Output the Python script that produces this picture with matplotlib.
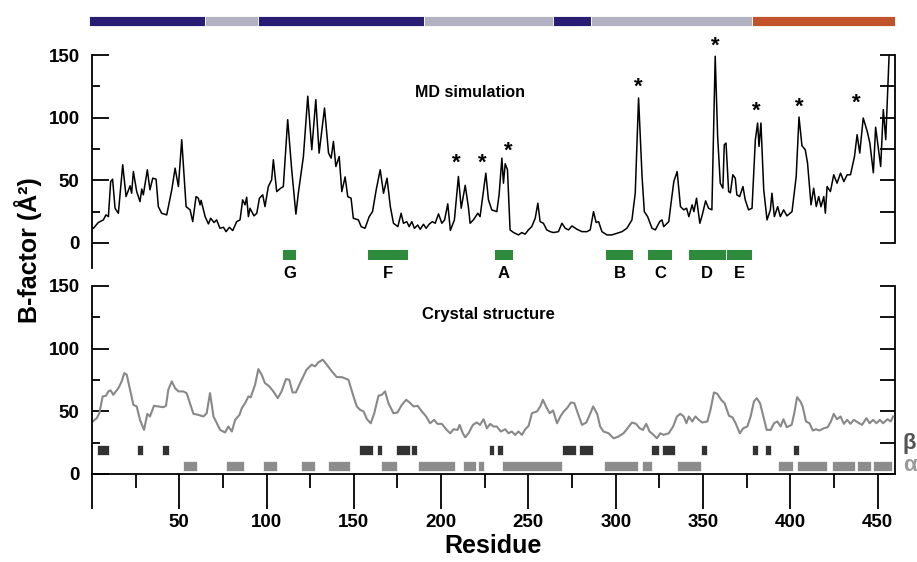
import matplotlib
matplotlib.use("Agg")
import matplotlib.pyplot as plt
from matplotlib.ticker import FixedLocator, FixedFormatter

plt.rcParams['font.family'] = ['Liberation Sans', 'DejaVu Sans']

# MD simulation B-factors (residue, value)
md_res = [0.8, 3.6, 6.5, 8, 9.4, 10.7, 11.8, 13.2, 15.1, 17.6, 19.5, 21.8, 22.7, 23.7, 25.6, 27.5, 28.5, 29.4,
          31.7, 33.2, 34.8, 36.7, 38, 39.9, 42.8, 45.7, 47.6, 49.5, 51.4, 53.9, 56.2, 57.7, 59.6, 60.9, 61.9,
          62.5, 64.8, 66.7, 68, 69.9, 71.4, 73.3, 75.3, 76.8, 78.7, 80.6, 82.9, 84.8, 86.3, 87.7, 88.6, 89.6,
          90.5, 92.8, 94.4, 95.9, 97.8, 99.1, 101, 102.9, 103.9, 105.8, 108.1, 109.6, 112.1, 114.4, 116.8,
          118.2, 121.1, 123.6, 125.9, 128.2, 130.1, 133.2, 135.5, 137, 138.3, 139.7, 141.6, 143.1, 145,
          146.5, 148.4, 149.7, 152.6, 154.2, 156.4, 158.8, 160.7, 162.8, 165.1, 167, 169, 170.9, 172.7,
          175.2, 177.1, 178.4, 180.3, 181.7, 183.2, 184.7, 186.6, 188, 189.9, 191.4, 193.3, 195, 196.6,
          198.5, 200.4, 202, 203.8, 205.3, 207.6, 209.9, 211.5, 213.8, 215.7, 216.6, 218.5, 221, 222.3,
          225.6, 227.1, 229, 231.9, 233.2, 234.8, 235.7, 236.7, 238, 239.5, 241.5, 244.3, 246.2, 248.1,
          250, 251.9, 253.9, 255.4, 256.7, 258.6, 260.5, 262.5, 264.4, 267.2, 269.2, 271.1, 273, 274.9,
          277.8, 280.7, 283.5, 285.4, 287.3, 288.8, 290.2, 292.1, 295, 297.8, 300.7, 303.6, 306.4, 309.3,
          311.2, 313.1, 315.1, 316.4, 318.3, 320.8, 322.7, 325.2, 326.5, 327.5, 330.4, 331.7, 333.3, 335.2,
          337.1, 339, 340.6, 341.9, 343.8, 344.8, 346.3, 348.2, 349.6, 351.5, 353.2, 355.1, 357, 358.4,
          359.9, 361.4, 362.2, 363.2, 364.7, 365.7, 367.1, 368.5, 369.4, 371, 372.9, 374.2, 376.1, 378.1,
          380, 381.3, 382.1, 383.2, 384.8, 386.7, 388.6, 389.5, 390.9, 392.8, 394.3, 396.2, 398.1, 401,
          403.4, 405, 406.7, 408.6, 409.9, 411.9, 413.4, 414.9, 416.3, 417.6, 419.2, 420.1, 421.1, 423,
          424.9, 426.8, 428.8, 430.7, 432.6, 434.5, 436.8, 438.3, 439.8, 441.8, 444.1, 445.6, 447.6, 448.9,
          451.8, 453.3, 454.7, 456.6]
md_b = [11.7, 16.3, 18.4, 22.4, 21, 49, 50.9, 27.7, 23.7, 62.4, 37, 45.6, 39.7, 57, 41, 33, 43, 38.4,
        58.4, 42.4, 51.7, 50.9, 29, 23.7, 22.4, 42.4, 59.7, 45, 82.4, 29, 26.4, 17, 37, 35.7, 30.4,
        34, 21, 15.2, 19.7, 16.3, 18.4, 11.7, 12.5, 9, 12.5, 9.9, 17, 18.4, 34.4, 30.4, 36.5, 21,
        27.7, 21.6, 23.7, 35.7, 38.4, 29, 45, 50.4, 66.4, 41, 43.7, 45, 98.4, 58.4, 23,
        39.7, 69, 117.1, 74.4, 114.4, 71.7, 107.7, 71.7, 67.7, 81, 61, 69, 41, 52.7,
        37, 35.7, 19.7, 18.4, 13, 11.7, 21, 25, 42.4, 58.4, 39.7, 51.7, 29, 15.7,
        13, 23.7, 15.7, 17, 13, 17, 11.7, 14.3, 10.9, 14.9, 11.7, 15.2, 17, 15.7,
        23.2, 15.7, 18.4, 31.2, 10, 18.4, 53, 27.7, 46, 27.7, 15.7, 18.4, 23.7, 21,
        55.7, 34.4, 26.4, 25, 38.4, 67.7, 47.7, 63.2, 58.4, 10.4, 8.3, 6.4, 8.3, 7,
        10.4, 13, 19.7, 31.7, 17, 15.7, 10.4, 9, 8.3, 9, 15.7, 11.7, 10.4, 13.6,
        10.9, 9, 9, 10.4, 25, 16.3, 17, 9, 6.4, 6.4, 7.7, 9, 11.7, 18.4,
        39.7, 115.7, 53, 25, 21, 11.7, 10.4, 17, 18.4, 13, 17, 31.7, 49, 57,
        29, 26.4, 27.7, 21, 30.4, 25, 35.7, 15.7, 22.4, 33.6, 27.7, 26.4, 149, 85,
        47.7, 43.7, 78.4, 79.7, 41, 40, 54.4, 51.7, 38.4, 37, 45, 34.4, 26.4, 27.7,
        82.4, 95.7, 77, 95.7, 42.4, 18.4, 26.4, 39.7, 21, 29, 21, 26.4, 21.6, 25,
        53, 100.5, 77.6, 74.4, 63.7, 30.4, 43.7, 29, 37, 28.9, 37, 23.7, 45, 41,
        54.4, 47.7, 55.7, 49, 54.4, 54.4, 69, 86.4, 71.7, 99.7, 89, 79.7, 56, 92.4,
        61, 106.4, 82.4, 149]

# crystal structure B-factors (residue, value)
xtal_res = [0.4, 2.7, 4.2, 6.1, 8, 9.4, 10.7, 12.2, 15.1, 17, 18.5, 19.9, 21.8, 23.7, 25.6, 27.5, 29.8,
            31.7, 33.2, 35.5, 38, 40.9, 42.4, 43.7, 45.7, 47.6, 49.5, 52.3, 54.2, 56.1, 58.1, 60.9, 63.8,
            65.7, 67.6, 69.6, 71.5, 73.4, 76.2, 78.1, 80.1, 82, 84.5, 85.8, 87.7, 89.6, 90.9, 93.4, 95.3,
            97.2, 99.1, 101.6, 103.9, 106.4, 108.6, 111.1, 113, 114.9, 116.8, 120.1, 122.9, 125.8, 127.8,
            129.7, 132.2, 134.5, 137.4, 140.2, 143.1, 146.9, 149.8, 151.7, 153.6, 155.6, 157.5, 159.7,
            161.7, 164.1, 166, 167.9, 169.8, 172.7, 175, 177.5, 180, 181.9, 184.2, 186.5, 189, 191.4,
            193.7, 196, 197.9, 200.4, 203.2, 205.2, 207.1, 209.4, 210.6, 212.4, 213.8, 215.7, 218.2,
            220.4, 222.3, 224.3, 226.2, 228.1, 230, 231.9, 234.2, 236.7, 238.6, 240.5, 242.4, 244.3,
            246.3, 248.2, 250.1, 252, 254.9, 256.8, 258.3, 260.3, 262.2, 264.1, 266.4, 268.3, 270.2,
            272.1, 274.4, 276.3, 278.3, 280.7, 283.2, 285.5, 287.1, 289.4, 291.1, 293, 295.9, 298.8,
            301.6, 304.5, 306.8, 309.3, 311.7, 313.7, 315.6, 317.5, 319.4, 321.7, 323.6, 325.5, 327.5,
            330.4, 332.9, 335.1, 337, 339, 340.5, 341.9, 343.8, 345.7, 347.6, 349.6, 352.5, 354.3, 356.3,
            358.2, 360.4, 362.4, 364.9, 366.8, 368.7, 371.1, 373.1, 375.4, 377.3, 379.2, 380.8, 382.7,
            384.6, 386.5, 388.8, 390.7, 392.6, 394.5, 396.1, 398, 400.8, 402.3, 403.9, 405.8, 407.1,
            409, 411, 412.9, 414.8, 416.7, 419.2, 421.4, 423.3, 424.9, 426.8, 428.8, 430.7, 432.6,
            434.5, 436.4, 438.8, 441.1, 443.6, 445.5, 447.4, 449.4, 451.3, 453.2, 455.7, 457.6, 458.9]
xtal_b = [41.9, 44.5, 48.5, 61.9, 62.4, 65.9, 66.7, 63.2, 68.5, 73.9, 80.5, 79.2, 67.2, 55.2, 53.9, 43.2, 35.2,
          48, 45.9, 54.4, 53.9, 53.3, 54.4, 67.2, 73.9, 68.5, 65.9, 65.9, 64.5, 56.5, 48, 47.2, 45.9,
          48.5, 64.5, 45.9, 40.5, 35.2, 33.1, 37.9, 33.9, 43.2, 47.2, 52.5, 56.5, 61.9, 61.1, 71.2, 83.7,
          79.2, 72.5, 69.9, 65.9, 60.5, 65.9, 75.7, 75.2, 65.1, 65.1, 75.2, 83.2, 87.2, 85.9,
          89.1, 91.2, 87.2, 81.9, 77.3, 77.3, 75.2, 61.9, 53.9, 51.2, 49.9, 43.7, 40.5,
          48.5, 62.4, 63.2, 65.9, 56.5, 48.5, 49.1, 55.2, 59.2, 57.1, 53.9, 54.4, 49.9, 45.9,
          40.5, 43.2, 40, 40, 35.2, 32.5, 35.7, 35.2, 39.2, 32.5, 29.3, 32.5, 39.2,
          41.1, 39.2, 43.7, 36.5, 40, 37.9, 37.9, 33.9, 35.7, 32.5, 33.9, 31.2, 33.9,
          31.2, 35.7, 38.4, 48.5, 49.9, 53.9, 59.2, 53.3, 48.5, 50.7, 40.5, 45.9, 49.9,
          52.5, 57.1, 56.5, 48.5, 39.2, 41.1, 48.5, 53.9, 48, 37.9, 33.9, 32.5, 28.5,
          29.9, 32.5, 36.5, 41.1, 40, 36.5, 35.2, 40, 33.9, 31.2, 28.5, 32.5, 31.2,
          32.5, 37.9, 45.9, 48, 45.9, 40.5, 45.9, 41.9, 45.9, 43.2, 41.1, 41.9, 51.2, 65.1,
          64, 59.2, 56.5, 46.4, 45.3, 40.5, 32.5, 36.5, 37.9, 45.9, 57.9, 60.5, 56.5,
          45.9, 35.2, 35.2, 40.5, 41.9, 37.9, 43.7, 37.3, 39.2, 48.5, 61.3, 57.9, 53.9,
          41.9, 40.5, 34.7, 35.7, 34.7, 36.5, 37.3, 41.9, 48, 43.7, 45.9, 40, 43.2,
          40, 43.2, 41.1, 39.2, 44.5, 40.5, 43.2, 40.5, 43.2, 40.5, 43.7, 41.9, 45.9]

# domain bar on top
domain_start = [-2, 65, 95, 190, 264, 286, 378]
domain_end = [65, 95, 190, 264, 286, 378, 460]
domain_colors = ['#271d72', '#b1b1c1', '#271d72', '#b1b1c1', '#271d72', '#b1b1c1', '#c1532b']

# loops (green bars)
loop_names = ['G', 'F', 'A', 'B', 'C', 'D', 'E']
loop_start = [109.5, 158, 231, 294.5, 318.6, 342, 364]
loop_end = [117, 181, 241, 310, 332, 363, 378]

# asterisks on MD peaks
star_res = [208.6, 223.5, 238.4, 312.9, 357, 380.5, 405, 438]
star_b = [64, 64, 73.6, 124, 156.8, 104.8, 108, 111.2]

# secondary structure
beta_start = [3, 26, 40, 153, 163, 174, 183, 227.5, 232, 269, 279, 320, 326.6, 349, 378, 385.7, 401.7]
beta_end = [10, 29.5, 44, 161, 166, 182, 186, 230.5, 235.5, 277, 287, 325, 334, 352.5, 381.6, 389, 405]
alpha_start = [52, 77, 98, 120, 135, 165.6, 187, 212.6, 221, 235, 293.4, 315, 335, 393, 404, 424, 438, 447.5]
alpha_end = [60, 87, 106, 128, 148, 174.8, 208, 220, 224.6, 269, 313, 321, 349, 401.7, 421, 437, 446, 458]

W, H = 917, 562
fig = plt.figure(figsize=(W / 100, H / 100), dpi=100)
left = 92 / W
width = (895 - 92) / W
ax1 = fig.add_axes([left, 1 - 268 / H, width, (268 - 55) / H])
ax2 = fig.add_axes([left, 1 - 474 / H, width, (474 - 286) / H])

narrow = ['Liberation Sans Narrow', 'Liberation Sans', 'DejaVu Sans']

for ax, ymin in [(ax1, -20), (ax2, 0)]:
    ax.set_xlim(0, 460)
    ax.set_ylim(ymin, 150)
    ax.spines['top'].set_visible(False)
    ax.spines['right'].set_visible(False)
    ax.spines['left'].set_bounds(ymin, 150)
    ax.spines['left'].set_linewidth(1.3)
    ax.set_yticks([0, 50, 100, 150])
    ax.set_yticks([25, 75, 125], minor=True)
    ax.tick_params(axis='y', which='major', direction='in', length=12, width=1.3, pad=9)
    ax.tick_params(axis='y', which='minor', direction='in', length=6, width=1.3)
    for lab in ax.get_yticklabels():
        lab.set_family(narrow)
        lab.set_fontweight('bold')
        lab.set_fontsize(13.5)
    sec = ax.secondary_yaxis('right')
    sec.set_yticks([0, 25, 50, 75, 100, 125, 150])
    sec.tick_params(direction='in', length=11, width=1.3, labelright=False)
    sec.spines['right'].set_bounds(0, 150)
    sec.spines['right'].set_linewidth(1.3)
    ax.set_facecolor('none')

# top panel: MD simulation
ax1.spines['bottom'].set_visible(False)
ax1.tick_params(axis='x', which='both', bottom=False, labelbottom=False)
ax1.plot(md_res, md_b, color='black', lw=1.1)
for s, e, c in zip(domain_start, domain_end, domain_colors):
    ax1.broken_barh([(s, e - s)], (173.5, 7.5), facecolors=c, edgecolor='white', lw=0.6, clip_on=False)
for n, s, e in zip(loop_names, loop_start, loop_end):
    ax1.broken_barh([(s, e - s)], (-13.6, 8), facecolors='#2e8b3c', clip_on=False)
    ax1.text((s + e) / 2, -24, n, ha='center', va='center', fontsize=12, fontweight='bold', clip_on=False)
for r, b in zip(star_res, star_b):
    ax1.text(r, b, '*', ha='center', va='center', fontsize=16, fontweight='bold')
ax1.text(216.6, 120, 'MD simulation', ha='center', va='center', fontsize=11.5, fontweight='bold')

# bottom panel: crystal structure
ax2.spines['bottom'].set_bounds(0, 460)
ax2.spines['bottom'].set_linewidth(1.3)
ax2.plot(xtal_res, xtal_b, color='#888888', lw=1.5)
ax2.broken_barh([(s, e - s) for s, e in zip(beta_start, beta_end)], (15.2, 8),
                facecolors='#333333', edgecolor='white', lw=0.5)
ax2.broken_barh([(s, e - s) for s, e in zip(alpha_start, alpha_end)], (2.4, 8),
                facecolors='#8c8c8c', edgecolor='white', lw=0.5)
ax2.text(227, 127, 'Crystal structure', ha='center', va='center', fontsize=12, fontweight='bold')
ax2.text(464.5, 24, 'β', ha='left', va='center', fontsize=16, fontweight='bold', color='#555555', clip_on=False)
ax2.text(464.5, 6.5, 'α', ha='left', va='center', fontsize=16, fontweight='bold', color='#999999', clip_on=False)

ax2.xaxis.set_major_locator(FixedLocator(list(range(0, 451, 50))))
ax2.xaxis.set_major_formatter(FixedFormatter([''] + [str(v) for v in range(50, 451, 50)]))
ax2.xaxis.set_minor_locator(FixedLocator(list(range(25, 451, 50))))
ax2.tick_params(axis='x', which='major', direction='out', length=25, width=1.3, pad=4)
ax2.tick_params(axis='x', which='minor', direction='out', length=10, width=1.3)
for lab in ax2.get_xticklabels():
    lab.set_family(narrow)
    lab.set_fontweight('bold')
    lab.set_fontsize(13.5)
ax2.set_xlabel('Residue', fontsize=18, fontweight='bold', labelpad=2)

fig.text(28 / W, 1 - 250 / H, 'B-factor (Å²)', rotation=90, ha='center', va='center',
         fontsize=18, fontweight='bold')

fig.savefig('out.png', dpi=100)
